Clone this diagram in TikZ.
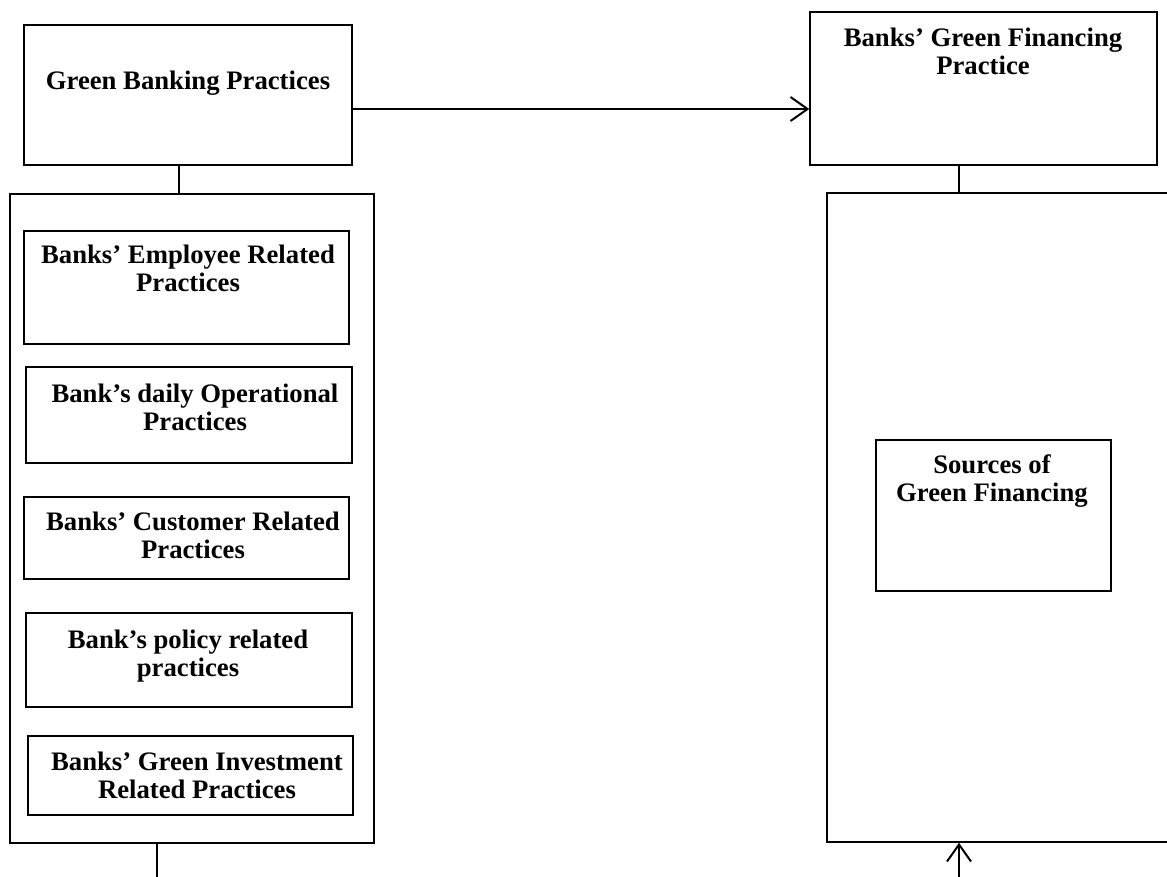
\documentclass[tikz,border=0pt]{standalone}
\usepackage{fontspec}
\setmainfont{Liberation Serif}
\usetikzlibrary{arrows.meta,positioning}

\begin{document}
\begin{tikzpicture}[x=1pt, y=-1pt,
        box/.style={draw, line width=1.5pt, inner sep=0pt},
        title/.style={align=center, inner sep=0pt, font=\fontsize{26.7}{28}\selectfont\bfseries},
        link/.style={line width=1.8pt},
        arrow/.style={line width=2.2pt, -{Straight Barb[length=17pt, width=24pt, line width=2pt]}}]
        \useasboundingbox (0,0) rectangle (1167,876);

        % Top boxes
        \node[box, minimum width=328pt, minimum height=140pt] (gbp) at (188,95) {};
        \node[title] (gbpt) at (188,83) {Green Banking Practices};
        \node[box, minimum width=347pt, minimum height=153pt] (gfp) at (983.5,88.5) {};
        \node[title] (gfpt) at (983,51) {Banks’ Green Financing\\Practice};

        % Arrow between the top boxes
        \draw[arrow] ([yshift=-14pt]gbp.east) -- ([yshift=-14pt]gbp.east -| gfp.west);

        % Left column
        \node[box, minimum width=364pt, minimum height=649pt] (left) at (192,518.5) {};
        \draw[link] ([xshift=-9pt]gbp.south) -- ([xshift=-9pt]gbp.south |- left.north);

        \node[box, minimum width=325pt, minimum height=113pt] (emp) at (186.5,287.5) {};
        \node[title] (empt) at (188,268.5) {Banks’ Employee Related\\Practices};
        \node[box, minimum width=326pt, minimum height=96pt] (ops) at (189,415) {};
        \node[title] (opst) at (195,407) {Bank’s daily Operational\\Practices};
        \node[box, minimum width=325pt, minimum height=82pt] (cust) at (186.5,538) {};
        \node[title] (custt) at (193,535) {Banks’ Customer Related\\Practices};
        \node[box, minimum width=326pt, minimum height=94pt] (pol) at (189,660) {};
        \node[title] (polt) at (188,656) {Bank’s policy related\\practices};
        \node[box, minimum width=325pt, minimum height=79pt] (inv) at (190.5,775.5) {};
        \node[title] (invt) at (197,775) {Banks’ Green Investment\\Related Practices};

        \coordinate (leftout) at (157,880);
        \draw[link] (leftout |- left.south) -- (leftout);

        % Right column
        \node[box, minimum width=353pt, minimum height=649pt] (right) at (1003.5,517.5) {};
        \draw[link] ([xshift=-24.5pt]gfp.south) -- ([xshift=-24.5pt]gfp.south |- right.north);

        \node[box, minimum width=235pt, minimum height=151pt] (src) at (993.5,515.5) {};
        \node[title] (srct) at (992,481) {Sources of\\Green Financing};

        \coordinate (rightin) at (959,880);
        \draw[arrow] (rightin) -- (rightin |- right.south);
    \end{tikzpicture}
\end{document}
